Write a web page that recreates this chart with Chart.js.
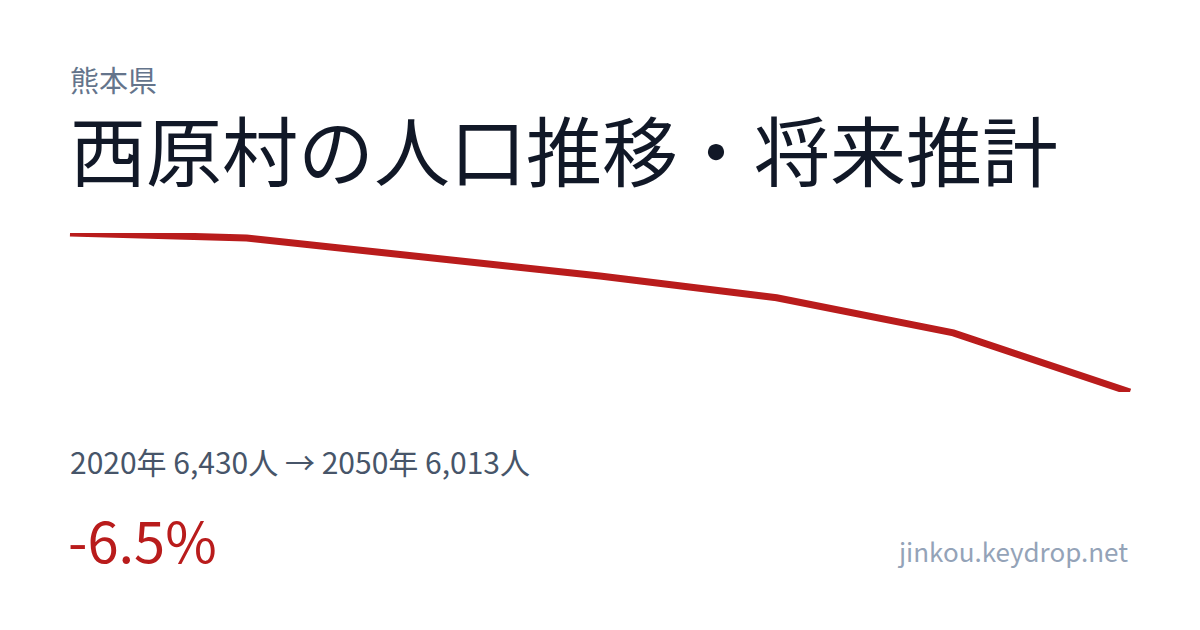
<!DOCTYPE html>
<html lang="ja">
<head>
<meta charset="utf-8">
<title>西原村の人口推移・将来推計</title>
<script src="https://cdn.jsdelivr.net/npm/chart.js@4/dist/chart.umd.min.js"></script>
<style>
    html, body {
        margin: 0;
        padding: 0;
        background: #ffffff;
    }
    body {
        width: 1200px;
        height: 630px;
        position: relative;
        overflow: hidden;
        font-family: "Noto Sans CJK JP", "Noto Sans", sans-serif;
    }
    .txt {
        position: absolute;
        line-height: 1;
        white-space: nowrap;
    }
    #pref { left: 70px; top: 65px; font-size: 29px; color: #64748b; }
    #title { left: 70px; top: 110px; font-size: 76px; color: #111827; }
    #summary { left: 70px; top: 446px; font-size: 30px; color: #475569; }
    #change { left: 68px; top: 511px; font-size: 56px; color: #b91c1c; }
    #site { right: 72px; top: 538px; font-size: 26px; color: #94a3b8; }
    #chartBox {
        position: absolute;
        left: 60px;
        top: 223px;
        width: 1080px;
        height: 179px;
    }
</style>
</head>
<body>
<div class="txt" id="pref">熊本県</div>
<div class="txt" id="title">西原村の人口推移・将来推計</div>
<div id="chartBox"><canvas id="trendChart"></canvas></div>
<div class="txt" id="summary">2020年 6,430人 → 2050年 6,013人</div>
<div class="txt" id="change">-6.5%</div>
<div class="txt" id="site">jinkou.keydrop.net</div>

<script>
// Years and population
var years = ['2020', '2025', '2030', '2035', '2040', '2045', '2050'];
var population = [6430, 6417, 6367, 6317, 6260, 6168, 6013];

// Get the canvas element
var ctx = document.getElementById('trendChart').getContext('2d');

// Create the line chart
var trendChart = new Chart(ctx, {
    type: 'line',
    data: {
        labels: years,
        datasets: [{
            label: '人口',
            data: population,
            borderColor: '#b91c1c',
            borderWidth: 7,
            borderCapStyle: 'butt',
            borderJoinStyle: 'miter',
            pointRadius: 0,
            tension: 0,
            fill: false
        }]
    },
    options: {
        responsive: true,
        maintainAspectRatio: false,
        animation: false,
        layout: { padding: 10 },
        plugins: {
            legend: { display: false },
            tooltip: { enabled: false }
        },
        scales: {
            x: { display: false },
            y: {
                display: false,
                min: Math.min.apply(null, population),
                max: Math.max.apply(null, population)
            }
        }
    }
});
</script>
</body>
</html>
